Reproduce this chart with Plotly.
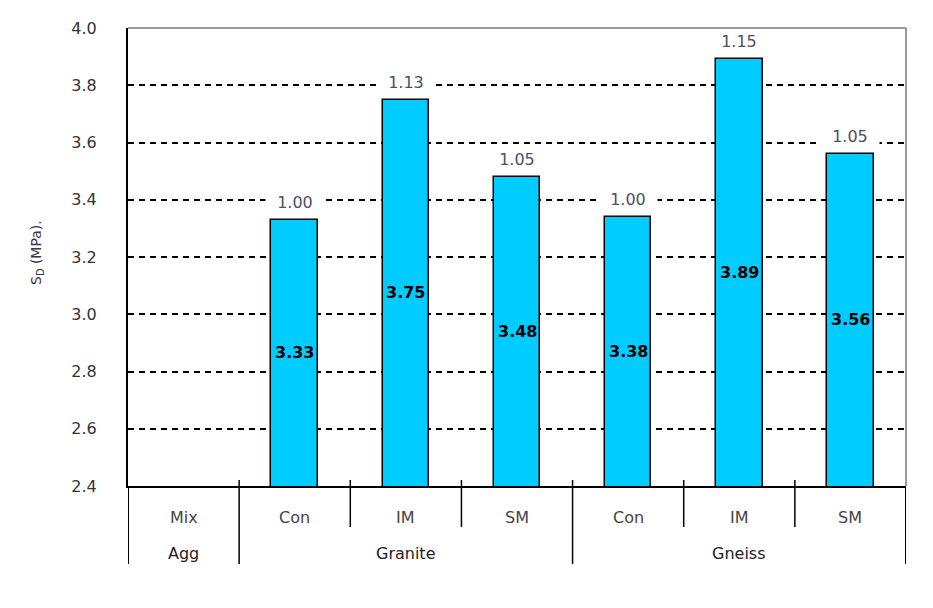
import plotly.graph_objects as go

# ---- data ----
mix_labels = ["Mix", "Con", "IM", "SM", "Con", "IM", "SM"]
agg_labels = ["Agg", "Granite", "Gneiss"]
agg_centers = [0, 2, 5]
bar_positions = [1, 2, 3, 4, 5, 6]
sb_values = [3.33, 3.75, 3.48, 3.34, 3.89, 3.56]
sb_text = ["3.33", "3.75", "3.48", "3.38", "3.89", "3.56"]
ratio_text = ["1.00", "1.13", "1.05", "1.00", "1.15", "1.05"]
y_ticks = [2.4, 2.6, 2.8, 3.0, 3.2, 3.4, 3.6, 3.8, 4.0]
y_min, y_max = 2.4, 4.0

FONT = "DejaVu Sans"

fig = go.Figure()
fig.add_trace(go.Bar(
    x=bar_positions, y=sb_values,
    width=0.42,
    marker=dict(color="#00CCFF", line=dict(color="black", width=1.5)),
    hoverinfo="skip",
))

# page has an 8px body margin; plot area = x 128..906, y 28..486 in the page
# plot-area height in pixels = 458
def py(pix):  # page pixel y -> paper y
    return (486 - pix) / 458.0

annotations = []
for xp, v, t in zip(bar_positions, sb_values, ratio_text):
    annotations.append(dict(
        x=xp, y=v, xref="x", yref="y", text="\u00a0\u00a0" + t + "\u00a0\u00a0",
        showarrow=False, yanchor="bottom", yshift=6,
        bgcolor="white", borderpad=1,
        font=dict(family=FONT, size=16, color="#4d5066"),
    ))
for xp, v, t in zip(bar_positions, sb_values, sb_text):
    annotations.append(dict(
        x=xp, y=(y_min + v) / 2, xref="x", yref="y", text="<b>" + t + "</b>",
        showarrow=False, yanchor="middle",
        font=dict(family=FONT, size=16, color="black"),
    ))
for i, lab in enumerate(mix_labels):
    annotations.append(dict(
        x=i, y=py(517), xref="x", yref="paper", text=lab, showarrow=False,
        yanchor="middle",
        font=dict(family=FONT, size=16, color="#444444"),
    ))
for xc, lab in zip(agg_centers, agg_labels):
    annotations.append(dict(
        x=xc, y=py(553), xref="x", yref="paper", text=lab, showarrow=False,
        yanchor="middle",
        font=dict(family=FONT, size=16, color="#222222"),
    ))
annotations.append(dict(
    x=(37 - 128) / 778.0, y=py(253), xref="paper", yref="paper",
    text="S<sub>D</sub> (MPa).", textangle=-90, showarrow=False,
    xanchor="center", yanchor="middle",
    font=dict(family=FONT, size=14, color="#3a2f50"),
))

shapes = []
shapes.append(dict(type="line", xref="paper", yref="paper", x0=0, x1=1, y0=1, y1=1,
                   line=dict(color="#999999", width=2), layer="above"))
shapes.append(dict(type="line", xref="paper", yref="paper", x0=1, x1=1, y0=0, y1=1,
                   line=dict(color="#999999", width=2), layer="above"))
for xv in [-0.5, 6.5]:
    shapes.append(dict(type="line", xref="x", yref="paper", x0=xv, x1=xv,
                       y0=0, y1=py(564), line=dict(color="black", width=2)))
for xv in [0.5, 3.5]:
    shapes.append(dict(type="line", xref="x", yref="paper", x0=xv, x1=xv,
                       y0=py(480), y1=py(564), line=dict(color="black", width=1.5)))
for xv in [1.5, 2.5, 4.5, 5.5]:
    shapes.append(dict(type="line", xref="x", yref="paper", x0=xv, x1=xv,
                       y0=py(480), y1=py(527), line=dict(color="black", width=1.5)))

fig.update_layout(
    width=925, height=600,
    margin=dict(l=120, r=27, t=20, b=122),
    paper_bgcolor="white", plot_bgcolor="white",
    showlegend=False,
    xaxis=dict(range=[-0.5, 6.5], showticklabels=False, showgrid=False,
               zeroline=False, showline=True, linecolor="black", linewidth=2,
               fixedrange=True),
    yaxis=dict(range=[y_min, y_max], tickvals=y_ticks, tickformat=".1f",
               showgrid=True, gridcolor="black", gridwidth=1.5, griddash="6px,5px",
               zeroline=False, showline=True, linecolor="black", linewidth=2,
               ticks="", ticklabelstandoff=26,
               tickfont=dict(family=FONT, size=16, color="#333333")),
    annotations=annotations,
    shapes=shapes,
    bargap=0,
)

fig.write_html("out.html")
